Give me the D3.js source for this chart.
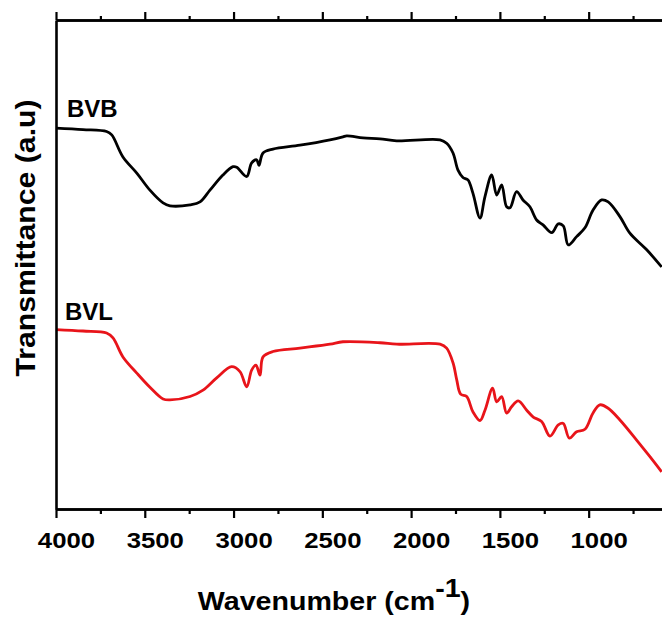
<!DOCTYPE html>
<html><head><meta charset="utf-8">
<script src="https://cdn.jsdelivr.net/npm/d3@7"></script>
<style>body{margin:0;background:#fff}svg{display:block}</style>
</head><body>
<div id="chart"></div>
<script>
// Wavenumber (cm^-1) sample points and transmittance (a.u.)
const bvbWave = [4000,3848,3715,3686,3623,3545,3471,3397,3358,3245,3189,3133,3060,3003,2982,2926,2898,2870,2857,2834,2778,2626,2457,2384,2363,2271,2175,2081,1837,1800,1764,1736,1708,1680,1652,1612,1584,1546,1518,1490,1462,1443,1406,1370,1331,1293,1257,1208,1171,1143,1115,1068,1021,976,927,890,824,768,673,589];
const bvbValue = [77.9,77.6,77.2,76.5,72.0,68.7,65.2,62.6,62.0,62.2,62.8,65.2,68.3,70.0,69.9,68.0,70.8,71.4,70.3,72.8,73.6,74.4,75.5,76.1,76.3,75.9,75.7,75.3,75.5,74.8,72.8,69.3,67.8,67.3,64.6,59.5,63.9,68.3,64.2,66.3,61.8,61.6,64.9,63.2,61.8,59.1,58.1,56.5,58.3,57.9,54.0,55.7,57.5,61.1,63.2,62.8,59.8,56.4,53.0,49.5];
const bvlWave = [4000,3848,3715,3679,3623,3545,3471,3397,3358,3245,3172,3095,3011,2964,2926,2898,2874,2851,2834,2778,2626,2457,2384,2175,2081,1837,1800,1764,1743,1721,1687,1652,1612,1584,1541,1518,1490,1462,1434,1397,1349,1312,1265,1218,1171,1143,1109,1068,1021,976,937,890,824,730,655,589];
const bvlValue = [36.7,36.4,36.0,35.0,31.1,27.8,24.9,22.5,22.3,23.0,24.3,26.8,29.1,28.1,25.0,28.4,29.4,27.4,31.1,32.2,32.9,33.7,34.2,34.0,33.7,33.7,32.9,29.9,26.4,23.5,23.0,19.9,18.1,20.2,24.7,21.9,23.0,19.6,20.9,22.1,20.2,18.8,17.9,14.9,17.2,17.5,14.5,15.8,16.3,19.6,21.3,20.6,18.2,14.1,10.7,7.6];
const seriesNames = ["BVB", "BVL"];
const majorTicks = [4000,3500,3000,2500,2000,1500,1000];
const minorTicks = [3750,3250,2750,2250,1750,1250,750];

const W = 662, H = 619;
const mLeft = 56, mTop = 20, mBottom = 509;
const svg = d3.select("#chart").append("svg").attr("width", W).attr("height", H);

const x = d3.scaleLinear().domain([4000, 587]).range([mLeft, 662]);
const y = d3.scaleLinear().domain([0, 100]).range([mBottom, mTop]);

const font = "'Liberation Sans', Arial, sans-serif";

// curves
const line = d3.line().x(d => x(d[0])).y(d => y(d[1])).curve(d3.curveCatmullRom.alpha(0.5));
const series = [
  {name: seriesNames[0], pts: d3.zip(bvbWave, bvbValue), color: "#000000"},
  {name: seriesNames[1], pts: d3.zip(bvlWave, bvlValue), color: "#e8141a"}
];
svg.selectAll("path.curve").data(series).enter().append("path")
  .attr("class", "curve")
  .attr("d", d => line(d.pts))
  .attr("fill", "none").attr("stroke", d => d.color)
  .attr("stroke-width", 2.8).attr("stroke-linejoin", "round");

// axes
const bottomMajor = d3.axisBottom(x).tickValues(majorTicks).tickSize(9).tickSizeOuter(0).tickFormat(d3.format("d"));
const bottomMinor = d3.axisBottom(x).tickValues(minorTicks).tickSize(5).tickSizeOuter(0).tickFormat("");
const topMajor = d3.axisTop(x).tickValues(majorTicks).tickSize(8).tickSizeOuter(0).tickFormat("");
const topMinor = d3.axisTop(x).tickValues(minorTicks).tickSize(4).tickSizeOuter(0).tickFormat("");

function styleAxis(g) {
  g.select(".domain").attr("stroke", "#000").attr("stroke-width", 2.6);
  g.selectAll(".tick line").attr("stroke", "#000").attr("stroke-width", 2.2);
}
svg.append("g").attr("transform", `translate(0,${mBottom})`).call(bottomMinor).call(styleAxis);
const gb = svg.append("g").attr("transform", `translate(0,${mBottom})`).call(bottomMajor).call(styleAxis);
gb.selectAll(".tick text")
  .attr("font-family", font).attr("font-weight", "bold")
  .attr("font-size", 23).attr("fill", "#000")
  .attr("x", 0).attr("y", 0).attr("dy", null)
  .attr("transform", "translate(10,39) scale(1.12,1)");
svg.append("g").attr("transform", `translate(0,${mTop})`).call(topMinor).call(styleAxis);
svg.append("g").attr("transform", `translate(0,${mTop})`).call(topMajor).call(styleAxis);

// left axis
const yAxis = d3.axisLeft(y).tickValues([]).tickSizeOuter(0);
svg.append("g").attr("transform", `translate(${mLeft},0)`).call(yAxis).call(styleAxis);

// series labels
svg.append("text").attr("x", 67).attr("y", 117).text(seriesNames[0])
  .attr("font-family", font).attr("font-weight", "bold").attr("font-size", 24).attr("fill", "#000");
svg.append("text").attr("x", 65).attr("y", 320).text(seriesNames[1])
  .attr("font-family", font).attr("font-weight", "bold").attr("font-size", 24).attr("fill", "#000");

// axis titles
const xt = svg.append("text").attr("transform", "translate(334,610) scale(1.1,1)")
  .attr("text-anchor", "middle").attr("font-family", font).attr("font-weight", "bold")
  .attr("font-size", 26).attr("fill", "#000");
xt.append("tspan").text("Wavenumber (cm");
xt.append("tspan").attr("dy", -13).text("-1");
xt.append("tspan").attr("dy", 13).text(")");

svg.append("text").attr("transform", "translate(35,238) rotate(-90) scale(1.08,1)")
  .attr("text-anchor", "middle").attr("font-family", font).attr("font-weight", "bold")
  .attr("font-size", 28).attr("fill", "#000").text("Transmittance (a.u)");
</script>
</body></html>
